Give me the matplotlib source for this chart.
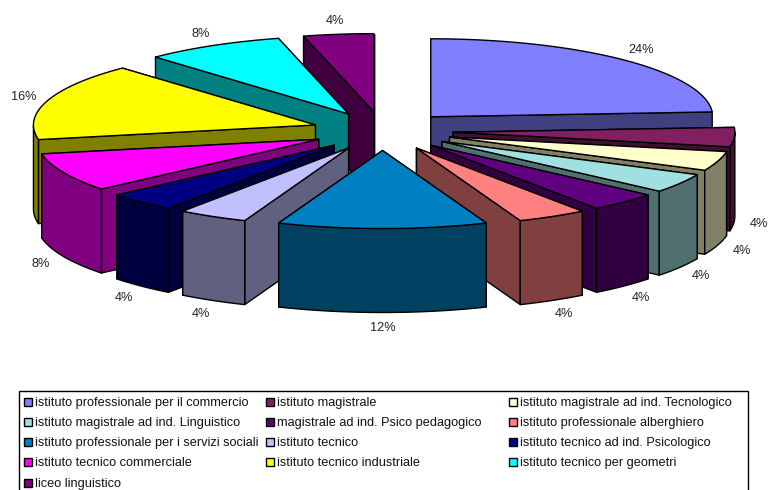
import numpy as np
from matplotlib import pyplot as plt
from matplotlib.colors import to_rgb
from matplotlib.patches import Polygon, Rectangle

categories = [
    "istituto professionale per il commercio",
    "istituto magistrale",
    "istituto magistrale ad ind. Tecnologico",
    "istituto magistrale ad ind. Linguistico",
    "magistrale ad ind. Psico pedagogico",
    "istituto professionale alberghiero",
    "istituto professionale per i servizi sociali",
    "istituto tecnico",
    "istituto tecnico ad ind. Psicologico",
    "istituto tecnico commerciale",
    "istituto tecnico industriale",
    "istituto tecnico per geometri",
    "liceo linguistico",
]
values = [24, 4, 4, 4, 4, 4, 12, 4, 4, 8, 16, 8, 4]
colors = [
    "#8080FF", "#802060", "#FFFFCC", "#A0E0E0", "#600080", "#FF8080", "#0080C0",
    "#C0C0FF", "#000080", "#FF00FF", "#FFFF00", "#00FFFF", "#800080",
]

plt.rcParams["font.family"] = ["Liberation Sans", "DejaVu Sans"]

# pie geometry in pixels
CX, CY = 382.5, 131
RX, RY = 282, 78
DEPTH = 84
EXPLODE = 0.25

# legend layout in pixels, columns are not evenly spaced in the reference
LEGEND_COLS = [23, 265, 508]
LEGEND_TOP = 402.5
LEGEND_STEP = 20.25


def project(theta, radius, apex):
    return np.column_stack(
        [apex[0] + radius * RX * np.sin(theta), apex[1] - radius * RY * np.cos(theta)]
    )


def dark(color):
    return tuple(c * 0.5 for c in to_rgb(color))


def draw_slice(ax, start, end, color):
    mid = (start + end) / 2
    apex = (CX + EXPLODE * RX * np.sin(mid), CY - EXPLODE * RY * np.cos(mid))
    thetas = np.linspace(start, end, 80)
    arc = project(thetas, 1, apex)
    drop = np.array([0, DEPTH])
    style = dict(edgecolor="black", linewidth=1, joinstyle="round")

    # radial walls, the one facing away first
    walls = [project(np.array([t]), 1, apex)[0] for t in (start, end)]
    walls.sort(key=lambda p: p[1])
    for tip in walls:
        quad = [apex, tip, tip + drop, np.array(apex) + drop]
        ax.add_patch(Polygon(quad, facecolor=dark(color), **style))

    # outer wall, only the part that faces the viewer
    front = arc[np.cos(thetas) <= 0]
    if len(front) > 1:
        ax.add_patch(Polygon(np.vstack([front, (front + drop)[::-1]]), facecolor=dark(color), **style))

    ax.add_patch(Polygon(np.vstack([[apex], arc]), facecolor=color, **style))

    # percent label just outside the arc, under the wall on the front half
    x = apex[0] + RX * np.sin(mid) + 25 * np.sin(mid)
    y = apex[1] - RY * np.cos(mid) - 13 * np.cos(mid)
    if np.cos(mid) < 0:
        y += DEPTH + 2
    return x, y


def draw_legend(ax):
    # frame runs off the bottom of the image, as in the reference
    ax.add_patch(Rectangle((18.5, 390.5), 729, 110, facecolor="white", edgecolor="black", linewidth=1))
    for i, name in enumerate(categories):
        row, col = divmod(i, 3)
        x = LEGEND_COLS[col]
        y = LEGEND_TOP + row * LEGEND_STEP
        ax.add_patch(Rectangle((x + 0.5, y - 5), 8, 8, facecolor=colors[i], edgecolor="black", linewidth=1))
        ax.text(x + 12, y, name, fontsize=9.15, color="#111111", ha="left", va="center")


fig = plt.figure(figsize=(7.68, 4.9), dpi=100)
ax = fig.add_axes([0, 0, 1, 1])
ax.set_xlim(0, 768)
ax.set_ylim(490, 0)
ax.axis("off")

edges = np.cumsum([0] + values) / sum(values) * 2 * np.pi
mids = (edges[:-1] + edges[1:]) / 2

# paint from the back of the pie to the front
for i in np.argsort(-np.cos(mids)):
    x, y = draw_slice(ax, edges[i], edges[i + 1], colors[i])
    ax.text(x, y, f"{values[i]}%", fontsize=9.2, color="#222222", ha="center", va="center")

draw_legend(ax)

fig.savefig("out.png", dpi=100)
